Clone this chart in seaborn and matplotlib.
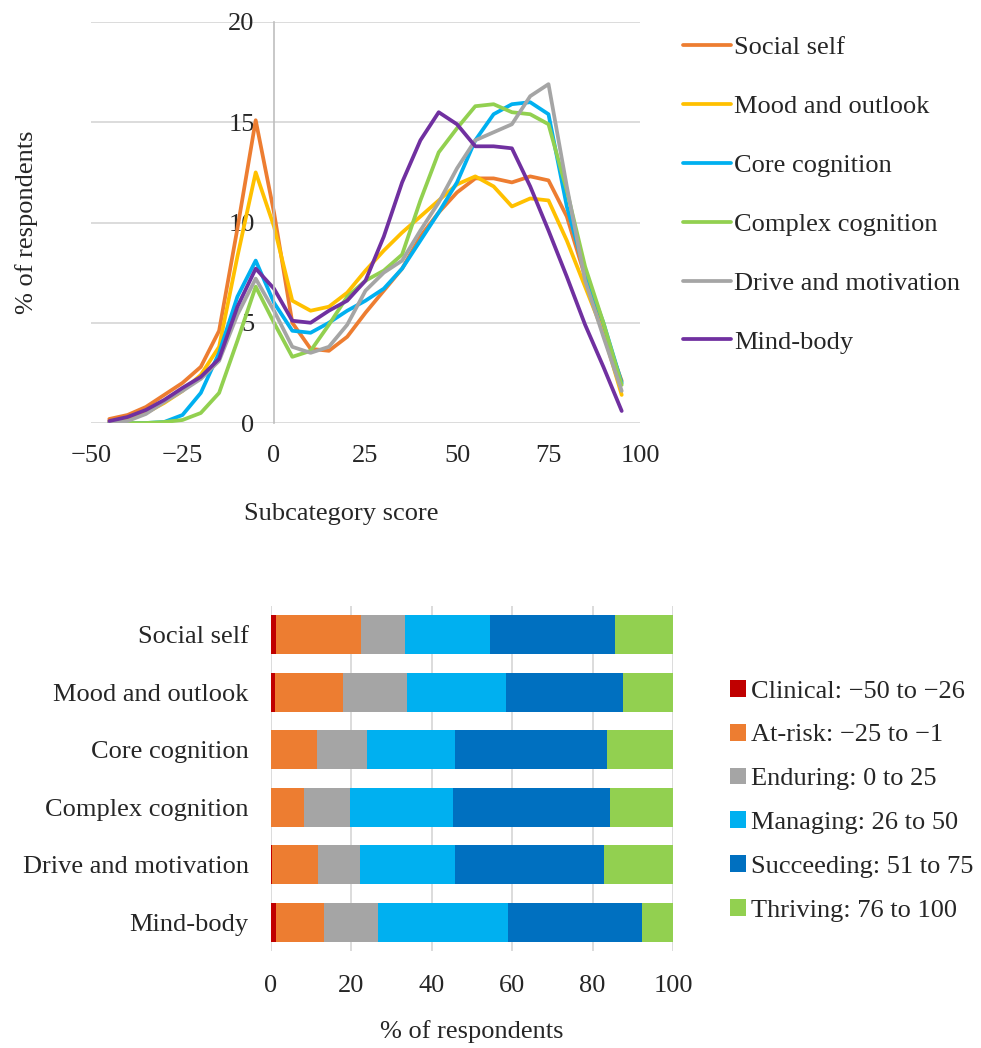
import numpy as np
import pandas as pd
import matplotlib
matplotlib.use("Agg")
import matplotlib.pyplot as plt
import seaborn as sns
from matplotlib.lines import Line2D
from matplotlib.patches import Patch

# ---------------- data: top chart (distribution of subcategory scores) ----------------
scores = [-45, -40, -35, -30, -25, -20, -15, -10, -5, 0, 5, 10, 15, 20, 25, 30, 35,
          40, 45, 50, 55, 60, 65, 70, 75, 80, 85, 90, 95]
social_self = [0.2, 0.4, 0.8, 1.4, 2.0, 2.8, 4.6, 9.7, 15.1, 10.5, 5.0, 3.7, 3.6, 4.3, 5.5,
               6.6, 7.7, 9.3, 10.5, 11.5, 12.2, 12.2, 12.0, 12.3, 12.1, 10.3, 7.3, 4.6, 2.1]
mood_outlook = [0.1, 0.2, 0.5, 1.0, 1.6, 2.4, 3.8, 8.3, 12.5, 9.8, 6.1, 5.6, 5.8, 6.5, 7.6,
                8.6, 9.5, 10.3, 11.1, 11.9, 12.3, 11.8, 10.8, 11.2, 11.1, 9.1, 6.8, 4.5, 1.4]
core_cognition = [0.0, 0.0, 0.0, 0.05, 0.4, 1.5, 3.5, 6.3, 8.1, 6.0, 4.6, 4.5, 5.0, 5.6, 6.1,
                  6.7, 7.7, 9.1, 10.5, 12.0, 14.1, 15.4, 15.9, 16.0, 15.4, 10.8, 7.5, 5.0, 2.0]
complex_cognition = [0.0, 0.0, 0.0, 0.05, 0.15, 0.5, 1.5, 4.1, 6.8, 5.0, 3.3, 3.6, 4.9, 6.3, 7.1,
                     7.6, 8.4, 11.1, 13.5, 14.7, 15.8, 15.9, 15.5, 15.4, 14.9, 11.6, 7.8, 5.0, 1.9]
drive_motivation = [0.0, 0.1, 0.45, 1.05, 1.6, 2.2, 3.1, 5.4, 7.2, 5.6, 3.8, 3.5, 3.8, 4.9, 6.6,
                    7.5, 8.1, 9.6, 11.0, 12.7, 14.1, 14.5, 14.9, 16.3, 16.9, 11.8, 7.1, 4.3, 1.6]
mind_body = [0.1, 0.3, 0.65, 1.15, 1.75, 2.3, 3.2, 5.8, 7.7, 6.7, 5.1, 5.0, 5.6, 6.1, 7.1,
             9.3, 12.0, 14.1, 15.5, 14.9, 13.8, 13.8, 13.7, 11.8, 9.6, 7.3, 4.9, 2.8, 0.6]

subcategories = ["Social self", "Mood and outlook", "Core cognition",
                 "Complex cognition", "Drive and motivation", "Mind-body"]
line_colors = ["#ED7D31", "#FFC000", "#00B0F0", "#92D050", "#A5A5A5", "#7030A0"]

# ---------------- data: bottom chart (share of respondents per band) ----------------
bands = ["Clinical: \u221250 to \u221226", "At-risk: \u221225 to \u22121", "Enduring: 0 to 25",
         "Managing: 26 to 50", "Succeeding: 51 to 75", "Thriving: 76 to 100"]
band_colors = ["#C00000", "#ED7D31", "#A5A5A5", "#00B0F0", "#0070C0", "#92D050"]
clinical = [1.2, 0.9, 0.0, 0.0, 0.3, 1.2]
at_risk = [21.1, 17.1, 11.5, 8.2, 11.4, 11.9]
enduring = [11.1, 15.9, 12.3, 11.4, 10.4, 13.6]
managing = [21.1, 24.5, 22.0, 25.7, 23.7, 32.2]
succeeding = [31.0, 29.1, 37.9, 39.0, 37.1, 33.4]
thriving = [14.5, 12.5, 16.3, 15.7, 17.1, 7.7]

# ---------------- style ----------------
sns.set_style("white")
plt.rcParams["font.family"] = ["Liberation Serif", "DejaVu Serif"]
plt.rcParams["axes.unicode_minus"] = True
FS = 19
GRID = "#D9D9D9"

W, H = 981, 1048
fig = plt.figure(figsize=(W / 100, H / 100), dpi=100)

# ---------------- top chart ----------------
ax1 = fig.add_axes([91 / W, 1 - 423 / H, 549 / W, 401 / H])
series = [social_self, mood_outlook, core_cognition, complex_cognition, drive_motivation, mind_body]
df = pd.DataFrame({
    "score": np.tile(scores, len(subcategories)),
    "pct": np.concatenate(series),
    "subcategory": np.repeat(subcategories, len(scores)),
})
sns.lineplot(data=df, x="score", y="pct", hue="subcategory", hue_order=subcategories,
             palette=line_colors, linewidth=2.7, legend=False, estimator=None,
             sort=False, ax=ax1)
for ln in ax1.get_lines():
    ln.set_solid_capstyle("round")
    ln.set_solid_joinstyle("round")

ax1.set_xlim(-50, 100)
ax1.set_ylim(0, 20)
ax1.set_xticks(range(-50, 101, 25))
ax1.set_yticks(range(0, 21, 5))
ax1.grid(axis="y", color=GRID, linewidth=1.3)
ax1.grid(axis="x", visible=False)
ax1.set_axisbelow(True)
for s in ["top", "right", "bottom"]:
    ax1.spines[s].set_visible(False)
ax1.spines["left"].set_position(("data", 0))
ax1.spines["left"].set_color("#BFBFBF")
ax1.spines["left"].set_linewidth(1.2)
ax1.tick_params(axis="both", length=0, labelsize=FS)
ax1.tick_params(axis="y", pad=14)
ax1.tick_params(axis="x", pad=16)
ax1.set_ylabel("% of respondents", fontsize=FS)
ax1.yaxis.set_label_coords(-0.097, 0.5)
ax1.set_xlabel("Subcategory score", fontsize=FS)
ax1.xaxis.set_label_coords(0.455, -0.2)

handles1 = [Line2D([0], [0], color=c, lw=2.7) for c in line_colors]
fig.legend(handles1, subcategories, loc="upper left",
           bbox_to_anchor=(683 / W, 1 - 36 / H), frameon=False, fontsize=FS,
           handlelength=1.8, handletextpad=0.15, labelspacing=1.34,
           borderaxespad=0, borderpad=0)

# ---------------- bottom chart ----------------
ax2 = fig.add_axes([271 / W, 1 - 951 / H, 402 / W, 345 / H])
parts = [clinical, at_risk, enduring, managing, succeeding, thriving]
cum = np.cumsum(np.array(parts), axis=0)
for i in range(len(parts) - 1, -1, -1):
    sns.barplot(x=cum[i], y=subcategories, order=subcategories, orient="h",
                color=band_colors[i], saturation=1, width=0.67, linewidth=0,
                errorbar=None, ax=ax2)
ax2.set_xlim(0, 100)
ax2.set_ylim(5.5, -0.5)
ax2.set_xticks(range(0, 101, 20))
ax2.grid(axis="x", color=GRID, linewidth=1.3)
ax2.grid(axis="y", visible=False)
ax2.set_axisbelow(True)
for s in ["top", "right", "bottom", "left"]:
    ax2.spines[s].set_visible(False)
ax2.tick_params(axis="both", length=0, labelsize=FS)
ax2.tick_params(axis="y", pad=16)
ax2.tick_params(axis="x", pad=17)
ax2.set_ylabel("")
ax2.set_xlabel("% of respondents", fontsize=FS)
ax2.xaxis.set_label_coords(0.5, -0.2)

handles2 = [Patch(facecolor=c, edgecolor="none") for c in band_colors]
fig.legend(handles2, bands, loc="upper left",
           bbox_to_anchor=(730 / W, 1 - 680 / H), frameon=False, fontsize=FS,
           handlelength=0.6, handleheight=0.6, handletextpad=0.2, labelspacing=0.8,
           borderaxespad=0, borderpad=0)

fig.savefig("out.png", dpi=100, facecolor="white")
